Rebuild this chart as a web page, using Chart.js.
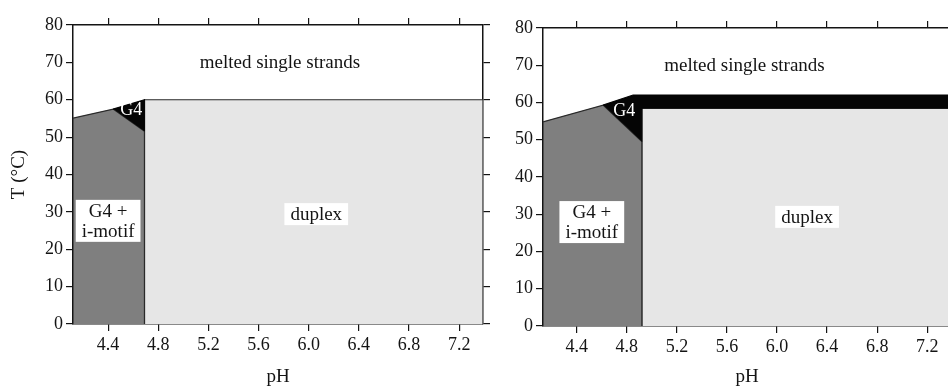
<!DOCTYPE html>
<html>
<head>
<meta charset="utf-8">
<script src="https://cdn.jsdelivr.net/npm/chart.js@4.4.1/dist/chart.umd.min.js"></script>
<style>
  html, body { margin: 0; padding: 0; background: #fff; overflow: hidden; width: 948px; height: 387px; }
  .panel { position: absolute; top: 0; }
</style>
</head>
<body>
<div class="panel" style="left:0px"><canvas id="leftChart" width="500" height="387"></canvas></div>
<div class="panel" style="left:490px"><canvas id="rightChart" width="470" height="387"></canvas></div>
<script>
// axis ticks
var pHTicks = [4.4, 4.8, 5.2, 5.6, 6.0, 6.4, 6.8, 7.2];
var pHTickLabels = ['4.4', '4.8', '5.2', '5.6', '6.0', '6.4', '6.8', '7.2'];
var tempTicks = [0, 10, 20, 30, 40, 50, 60, 70, 80];

// left panel regions (pH, T)
var leftDuplexPH = [4.69, 4.69, 7.39, 7.39];
var leftDuplexT  = [0, 60, 60, 0];
var leftMixPH = [4.12, 4.12, 4.44, 4.69, 4.69];
var leftMixT  = [0, 55.1, 57.5, 51.6, 0];
var leftG4PH = [4.44, 4.69, 4.69];
var leftG4T  = [57.5, 60, 51.6];

// right panel regions (pH, T)
var rightDuplexPH = [4.92, 4.92, 7.39, 7.39];
var rightDuplexT  = [0, 58.5, 58.5, 0];
var rightMixPH = [4.13, 4.13, 4.61, 4.92, 4.92];
var rightMixT  = [0, 54.8, 59.3, 49.5, 0];
var rightG4PH = [4.61, 4.85, 7.39, 7.39, 4.92, 4.92];
var rightG4T  = [59.3, 62, 62, 58.5, 58.5, 49.5];

var ink = '#141414';
var serif = 'Liberation Serif';

function pts(xs, ys) {
	var out = [];
	for (var i in xs) {
		out.push({x: xs[i], y: ys[i]});
	}
	return out;
}

function region(xs, ys, fillColor, lineColor) {
	return {
		data: pts(xs, ys),
		showLine: true,
		fill: 'shape',
		backgroundColor: fillColor,
		borderColor: lineColor,
		borderWidth: 1.2,
		pointRadius: 0,
		tension: 0
	};
}

// text labels placed in data coordinates
var regionLabels = {
	id: 'regionLabels',
	afterDatasetsDraw: function(chart) {
		var ctx = chart.ctx;
		var list = chart.options.plugins.regionLabels.items;
		ctx.save();
		ctx.textAlign = 'center';
		ctx.textBaseline = 'middle';
		list.forEach(function(it) {
			var px = chart.scales.x.getPixelForValue(it.x);
			var py = chart.scales.y.getPixelForValue(it.y);
			var size = it.size || 19;
			ctx.font = size + 'px "' + serif + '"';
			var lh = 20;
			var w = 0;
			it.text.forEach(function(t) { w = Math.max(w, ctx.measureText(t).width); });
			var h = lh * it.text.length;
			if (it.box) {
				ctx.fillStyle = '#fff';
				ctx.fillRect(px - w / 2 - 6, py - h / 2 - 1, w + 12, h + 2);
			}
			ctx.fillStyle = it.color || ink;
			it.text.forEach(function(t, k) {
				ctx.fillText(t, px, py - h / 2 + lh * k + lh / 2 + 1);
			});
		});
		ctx.restore();
	}
};

function makeChart(id, sets, labels, dims) {
	var tickFont = {family: serif, size: 18};
	var grid = {drawOnChartArea: false, drawTicks: true, tickLength: 7, color: ink, lineWidth: 1.2};
	var border = {display: true, color: ink, width: 1.5};
	var setPH = function(s) { s.ticks = pHTicks.map(function(v) { return {value: v}; }); };
	var setT = function(s) { s.ticks = tempTicks.map(function(v) { return {value: v}; }); };
	return new Chart(document.getElementById(id), {
		type: 'scatter',
		data: { datasets: sets },
		plugins: [regionLabels],
		options: {
			responsive: false,
			animation: false,
			layout: { padding: 0 },
			plugins: {
				legend: { display: false },
				tooltip: { enabled: false },
				regionLabels: { items: labels }
			},
			scales: {
				x: {
					type: 'linear', position: 'bottom', min: dims.xMin, max: 7.39,
					afterBuildTicks: setPH,
					afterFit: function(s) { s.height = dims.bottom; },
					grid: grid, border: border,
					ticks: { font: tickFont, color: ink, padding: 3, maxRotation: 0, autoSkip: false,
						callback: function(v, i) { return pHTickLabels[i]; } },
					title: { display: true, text: 'pH', color: ink, font: {family: serif, size: 19, lineHeight: 1},
						padding: {top: 0, bottom: 0} }
				},
				x2: {
					type: 'linear', position: 'top', min: dims.xMin, max: 7.39,
					afterBuildTicks: setPH,
					afterFit: function(s) { s.height = dims.top; },
					grid: grid, border: border,
					ticks: { display: false }
				},
				y: {
					type: 'linear', position: 'left', min: 0, max: 80,
					afterBuildTicks: setT,
					afterFit: function(s) { s.width = dims.left; },
					grid: grid, border: border,
					ticks: { font: tickFont, color: ink, padding: 3 },
					title: { display: dims.yTitle, text: 'T (°C)', color: ink, font: {family: serif, size: 19, lineHeight: 1},
						padding: {top: 10, bottom: 0} }
				},
				y2: {
					type: 'linear', position: 'right', min: 0, max: 80,
					afterBuildTicks: setT,
					afterFit: function(s) { s.width = dims.right; },
					grid: grid, border: border,
					ticks: { display: false }
				}
			}
		}
	});
}

var black = '#050505';
var mixGray = '#7f7f7f';
var duplexGray = '#e6e6e6';
var edge = '#2a2a2a';

makeChart('leftChart', [
	region(leftG4PH, leftG4T, black, black),
	region(leftMixPH, leftMixT, mixGray, edge),
	region(leftDuplexPH, leftDuplexT, duplexGray, edge)
], [
	{text: ['melted single strands'], x: 5.77, y: 70},
	{text: ['G4'], x: 4.585, y: 57.4, color: '#fff', size: 18},
	{text: ['G4 +', 'i-motif'], x: 4.4, y: 27.6, box: true},
	{text: ['duplex'], x: 6.06, y: 29.4, box: true}
], {xMin: 4.12, left: 73, right: 17, top: 25, bottom: 63, yTitle: true});

makeChart('rightChart', [
	region(rightG4PH, rightG4T, black, black),
	region(rightMixPH, rightMixT, mixGray, edge),
	region(rightDuplexPH, rightDuplexT, duplexGray, edge)
], [
	{text: ['melted single strands'], x: 5.74, y: 70},
	{text: ['G4'], x: 4.78, y: 58, color: '#fff', size: 18},
	{text: ['G4 +', 'i-motif'], x: 4.52, y: 27.9, box: true},
	{text: ['duplex'], x: 6.24, y: 29.3, box: true}
], {xMin: 4.13, left: 53, right: 9, top: 28, bottom: 61, yTitle: false});
</script>
</body>
</html>
